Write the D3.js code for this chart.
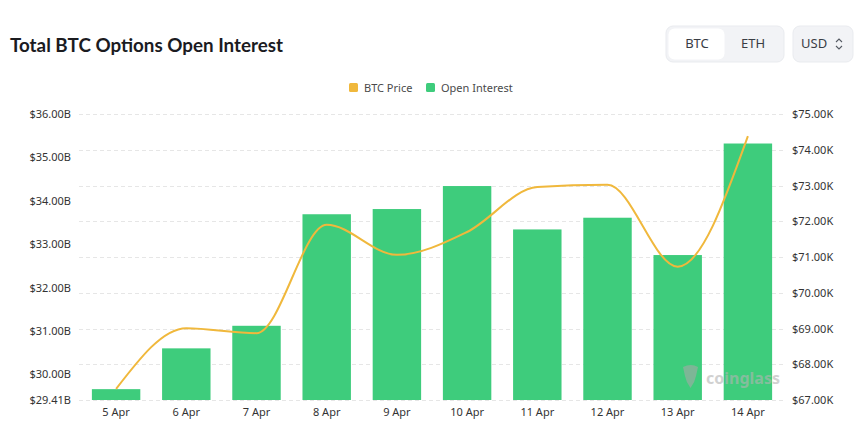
<!DOCTYPE html>
<html>
<head>
<meta charset="utf-8">
<script src="https://cdn.jsdelivr.net/npm/d3@7"></script>
<style>
  html, body { margin: 0; padding: 0; background: #ffffff; }
  svg { display: block; }
</style>
</head>
<body>
<svg id="chart" width="860" height="423"></svg>
<script>
// ---------- DATA ----------
const dates = ["5 Apr", "6 Apr", "7 Apr", "8 Apr", "9 Apr", "10 Apr", "11 Apr", "12 Apr", "13 Apr", "14 Apr"];
const openInterest = [29.66, 30.60, 31.12, 33.69, 33.81, 34.34, 33.34, 33.61, 32.75, 35.32]; // $B
const btcPrice = [67.31, 69.01, 68.87, 71.90, 71.06, 71.70, 72.96, 73.02, 70.73, 74.38];     // $K
const leftTicks = [29.41, 30, 31, 32, 33, 34, 35, 36];
const rightTicks = [67, 68, 69, 70, 71, 72, 73, 74, 75];
const legendLabels = ["BTC Price", "Open Interest"];
const toggleLabels = ["BTC", "ETH"];

// ---------- STYLE ----------
const barColor = "#3ecc7c";
const lineColor = "#f0b83c";
const font = "'Noto Sans', 'Open Sans', sans-serif";

const svg = d3.select("#chart");
const plot = { left: 81, right: 783, top: 114, bottom: 400 };

// Title
svg.append("text")
  .attr("x", 10).attr("y", 52)
  .attr("font-family", "Lato, 'Open Sans', sans-serif")
  .attr("font-weight", 700)
  .attr("font-size", 19.5)
  .attr("fill", "#1b1b1f")
  .attr("textLength", 273)
  .attr("lengthAdjust", "spacingAndGlyphs")
  .text("Total BTC Options Open Interest");

// Toggle buttons
const tg = svg.append("g");
tg.append("rect").attr("x", 666).attr("y", 26).attr("width", 118).attr("height", 36)
  .attr("rx", 7).attr("fill", "#f2f3f6").attr("stroke", "#e9ebef");
tg.append("rect").attr("x", 668.5).attr("y", 28.5).attr("width", 56).attr("height", 31)
  .attr("rx", 6).attr("fill", "#ffffff");
tg.selectAll("text.tog").data(toggleLabels).enter().append("text")
  .attr("class", "tog")
  .attr("x", (d, i) => i === 0 ? 697 : 753)
  .attr("y", 48)
  .attr("text-anchor", "middle")
  .attr("font-family", font).attr("font-size", 13)
  .attr("fill", "#3a3d45")
  .text(d => d);
tg.append("rect").attr("x", 793).attr("y", 26).attr("width", 60).attr("height", 36)
  .attr("rx", 7).attr("fill", "#f2f3f6").attr("stroke", "#e9ebef");
tg.append("text").attr("x", 801).attr("y", 48)
  .attr("font-family", font).attr("font-size", 13).attr("fill", "#3a3d45").text("USD");
tg.append("path").attr("d", "M836,42 l3,-3 l3,3 M836,46 l3,3 l3,-3")
  .attr("fill", "none").attr("stroke", "#555a63").attr("stroke-width", 1.1);

// Scales
const x = d3.scaleBand().domain(dates).range([plot.left, plot.right]).paddingInner(0).paddingOuter(0);
const yL = d3.scaleLinear().domain([29.41, 36]).range([plot.bottom, plot.top]);
const yR = d3.scaleLinear().domain([67, 75]).range([plot.bottom, plot.top]);
const barW = x.bandwidth() * 0.69;

// Gridlines (right axis ticks)
svg.append("g").selectAll("line").data(rightTicks).enter().append("line")
  .attr("x1", plot.left - 2).attr("x2", plot.right)
  .attr("y1", d => Math.round(yR(d)) + 0.5).attr("y2", d => Math.round(yR(d)) + 0.5)
  .attr("stroke", "#e6e6e6").attr("stroke-dasharray", "4,3");

// Left axis
const leftAxis = d3.axisLeft(yL).tickValues(leftTicks).tickSize(0).tickPadding(0)
  .tickFormat(d => "$" + d.toFixed(2) + "B");
const gl = svg.append("g").attr("transform", `translate(71,0)`).call(leftAxis);
gl.select(".domain").remove();
gl.selectAll("text").attr("font-family", font).attr("font-size", 11).attr("fill", "#333333");

// Right axis
const rightAxis = d3.axisRight(yR).tickValues(rightTicks).tickSize(0).tickPadding(0)
  .tickFormat(d => "$" + d.toFixed(2) + "K");
const gr = svg.append("g").attr("transform", `translate(792,0)`).call(rightAxis);
gr.select(".domain").remove();
gr.selectAll("text").attr("font-family", font).attr("font-size", 11).attr("fill", "#333333");

// Bottom axis
const bottomAxis = d3.axisBottom(x).tickSize(0).tickPadding(0);
const gb = svg.append("g").attr("transform", `translate(0,${plot.bottom + 8})`).call(bottomAxis);
gb.select(".domain").remove();
gb.selectAll("text").attr("font-family", font).attr("font-size", 11).attr("fill", "#333333");

// Bars
svg.append("g").selectAll("rect").data(dates).enter().append("rect")
  .attr("x", d => x(d) + (x.bandwidth() - barW) / 2)
  .attr("width", barW)
  .attr("y", (d, i) => yL(openInterest[i]))
  .attr("height", (d, i) => plot.bottom - yL(openInterest[i]))
  .attr("fill", barColor);

// Watermark
const wm = svg.append("g").attr("opacity", 0.6);
wm.append("path")
  .attr("d", "M683,367 q8,-4 15,0 l-2,9 q-1,6 -5.5,12 q-4.5,-6 -5.5,-12 z")
  .attr("fill", "#a8a8a8");
wm.append("text").attr("x", 706).attr("y", 384)
  .attr("font-family", font).attr("font-weight", 700).attr("font-size", 16)
  .attr("fill", "#b4b4b4").text("coinglass");

// Price line
const line = d3.line()
  .x((d, i) => x(dates[i]) + x.bandwidth() / 2)
  .y(d => yR(d))
  .curve(d3.curveMonotoneX);
svg.append("path").datum(btcPrice)
  .attr("d", line)
  .attr("fill", "none").attr("stroke", lineColor).attr("stroke-width", 2);

// Legend
const legendX = [349, 426];
const legendColors = [lineColor, barColor];
const lg = svg.append("g");
legendLabels.forEach((lab, i) => {
  lg.append("rect").attr("x", legendX[i]).attr("y", 83).attr("width", 9).attr("height", 9)
    .attr("rx", 1.5).attr("fill", legendColors[i]);
  lg.append("text").attr("x", legendX[i] + 15).attr("y", 91.5)
    .attr("font-family", font).attr("font-size", 11).attr("fill", "#4a4a4a").text(lab);
});
</script>
</body>
</html>
